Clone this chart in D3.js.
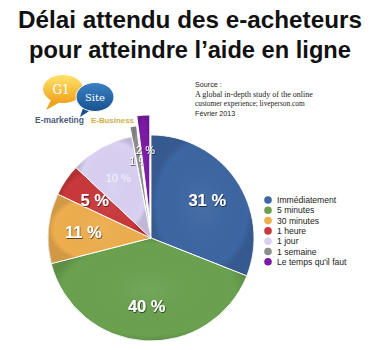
<!DOCTYPE html>
<html><head><meta charset="utf-8">
<script src="https://cdn.jsdelivr.net/npm/d3@7"></script>
<style>
html,body{margin:0;padding:0;background:#fff;}
svg{display:block;}
</style></head>
<body>
<svg id="chart" width="380" height="350"></svg>
<script>
const categories = ["Immédiatement","5 minutes","30 minutes","1 heure","1 jour","1 semaine","Le temps qu'il faut"];
const values = [31, 40, 11, 5, 10, 1, 2];
const labels = ["31 %","40 %","11 %","5 %","10 %","1 %","2 %"];
const colors = ["#3d66a2","#6aa14f","#eeae4e","#c9383a","#d9d0f2","#8e8e8e","#7b1ba5"];
const titleLines = ["Délai attendu des e-acheteurs","pour atteindre l\u2019aide en ligne"];
const sourceLines = ["Source :","A global in-depth study of the online","customer experience; liveperson.com","Février 2013"];

const svg = d3.select("#chart");
const defs = svg.append("defs");
const f = defs.append("filter").attr("id","sh").attr("x","-20%").attr("y","-20%").attr("width","140%").attr("height","140%");
f.append("feDropShadow").attr("dx",0.6).attr("dy",0.8).attr("stdDeviation",0.7).attr("flood-color","#000").attr("flood-opacity",0.75);

function fit(sel, size, width){
  const w = sel.node().getComputedTextLength();
  sel.attr("font-size", size*width/w);
}

// Title
const titleW = [344, 322];
titleLines.forEach((t,i)=>{
  const tx = svg.append("text").text(t)
    .attr("x",190).attr("y",[28,58][i])
    .attr("text-anchor","middle")
    .attr("font-family","'Liberation Sans', Arial, Helvetica, sans-serif")
    .attr("font-weight","bold").attr("font-size",21).attr("fill","#111");
  fit(tx, 21, titleW[i]);
});

// Logo
const gy = defs.append("linearGradient").attr("id","gy").attr("x1",0).attr("y1",0).attr("x2",0).attr("y2",1);
gy.append("stop").attr("offset","0%").attr("stop-color","#ffe36a");
gy.append("stop").attr("offset","100%").attr("stop-color","#f0a21e");
const gb = defs.append("linearGradient").attr("id","gb").attr("x1",0).attr("y1",0).attr("x2",0).attr("y2",1);
gb.append("stop").attr("offset","0%").attr("stop-color","#3a82c4");
gb.append("stop").attr("offset","100%").attr("stop-color","#17518f");
const logo = svg.append("g");
logo.append("path").attr("d","M52,98 L46,110 L62,101 Z").attr("fill","#f0a21e");
logo.append("ellipse").attr("cx",63).attr("cy",89).attr("rx",20).attr("ry",14).attr("fill","url(#gy)");
logo.append("text").text("G1").attr("x",61).attr("y",94).attr("text-anchor","middle")
  .attr("font-family","'DejaVu Serif', serif").attr("font-size",12).attr("fill","#fff");
logo.append("path").attr("d","M84,105 L80,117 L94,108 Z").attr("fill","#17518f");
logo.append("ellipse").attr("cx",95).attr("cy",97).attr("rx",19).attr("ry",14.5).attr("fill","url(#gb)").attr("stroke","#fff").attr("stroke-width",1);
logo.append("text").text("Site").attr("x",95).attr("y",101).attr("text-anchor","middle")
  .attr("font-family","'DejaVu Serif', serif").attr("font-size",10).attr("fill","#fff");
const em = logo.append("text").text("E-marketing").attr("x",35).attr("y",123)
  .attr("font-family","'Liberation Sans', Arial, sans-serif").attr("font-weight","bold").attr("font-size",9).attr("fill","#4d5b7c");
fit(em, 9, 49);
const eb = logo.append("text").text("E-Business").attr("x",91).attr("y",123)
  .attr("font-family","'Liberation Sans', Arial, sans-serif").attr("font-weight","bold").attr("font-size",9).attr("fill","#cfae4a");
fit(eb, 9, 43);

// Source
sourceLines.forEach((t,i)=>{
  const serif = (i===1||i===2);
  const s = svg.append("text").text(t).attr("x",195).attr("y",[87,97,106,116][i])
    .attr("font-family", serif ? "'Liberation Serif','Times New Roman',serif" : "'Liberation Sans', Arial, sans-serif")
    .attr("font-size", serif ? 8 : 7.2).attr("fill","#222");
  if (i===1) fit(s, 8, 118);
  if (i===2) fit(s, 8, 110);
});

// Pie
const cx = 151, cy = 238, R = 103;
const explode = [0,0,0,0,0,10,20];
const pie = d3.pie().sort(null).value(d=>d);
const arcs = pie(values);
const arc = d3.arc().innerRadius(0).outerRadius(R);
const labelArc = d3.arc().innerRadius(68).outerRadius(68);
const g = svg.append("g").attr("transform",`translate(${cx},${cy})`);

const rg = defs.append("radialGradient").attr("id","rim").attr("cx","50%").attr("cy","50%").attr("r","50%");
rg.append("stop").attr("offset","0%").attr("stop-color","#fff").attr("stop-opacity",0.06);
rg.append("stop").attr("offset","88%").attr("stop-color","#000").attr("stop-opacity",0.0);
rg.append("stop").attr("offset","100%").attr("stop-color","#000").attr("stop-opacity",0.12);

function shift(d,i){
  const a = (d.startAngle+d.endAngle)/2;
  return [Math.sin(a)*explode[i], -Math.cos(a)*explode[i]];
}
const slices = g.selectAll("g.slice").data(arcs).enter().append("g").attr("class","slice")
  .attr("transform",(d,i)=>{const s=shift(d,i);return `translate(${s[0]},${s[1]})`;});
slices.append("path").attr("d",arc).attr("fill",(d,i)=>colors[i]).attr("stroke","#fff").attr("stroke-width",1);
slices.append("path").attr("d",arc).attr("fill","url(#rim)").attr("stroke","none");

slices.append("text").text((d,i)=>labels[i])
  .attr("transform",(d,i)=>`translate(${labelArc.centroid(d)})`)
  .attr("text-anchor","middle").attr("dy","0.36em")
  .attr("font-family","'Liberation Sans', Arial, Helvetica, sans-serif")
  .attr("font-weight",(d,i)=> values[i]>=5 && i!==4 ? "bold" : "normal")
  .attr("font-size",(d,i)=> values[i]>=5 && i!==4 ? 16.5 : 11)
  .attr("fill",(d,i)=> i===4 ? "#f4f0ff" : "#fff")
  .attr("filter",(d,i)=> i===4 ? null : "url(#sh)");

// Legend
const lg = svg.append("g");
categories.forEach((c,i)=>{
  const y = 200 + i*10.3;
  lg.append("circle").attr("cx",268).attr("cy",y).attr("r",3.8).attr("fill",colors[i]);
  lg.append("text").text(c).attr("x",277).attr("y",y).attr("dy","0.35em")
    .attr("font-family","'Liberation Sans', Arial, Helvetica, sans-serif")
    .attr("font-size",8.6).attr("fill","#222");
});
</script>
</body></html>
